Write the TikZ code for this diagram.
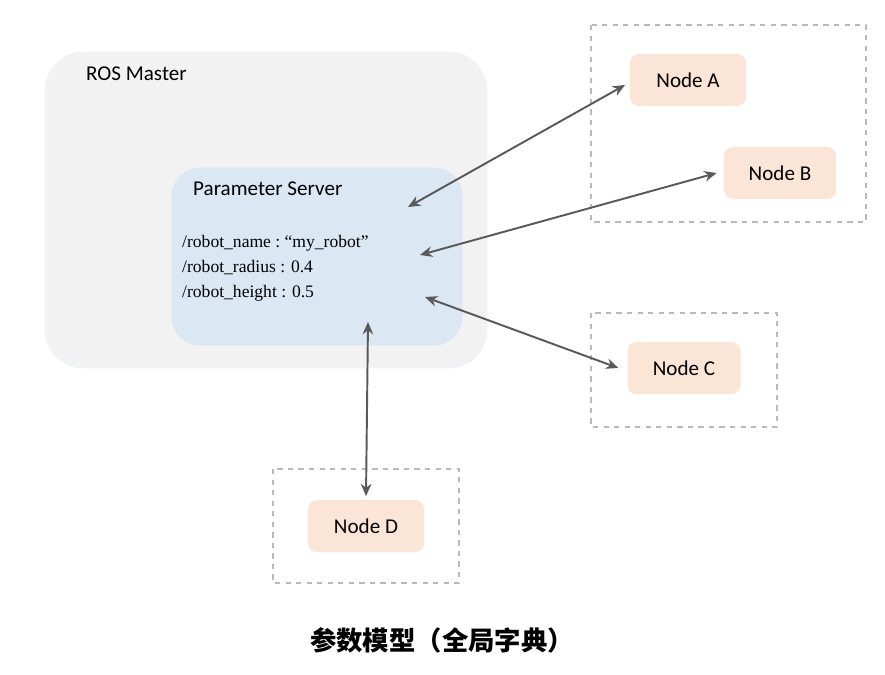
\documentclass[tikz,border=0pt]{standalone}
\usepackage{fontspec}
\setmainfont{Carlito}
\newfontfamily\serifx{Liberation Serif}
\newfontfamily\cjk{Noto Sans CJK SC}
\usetikzlibrary{arrows.meta}
\definecolor{mastergray}{HTML}{F2F2F2}
\definecolor{psblue}{HTML}{DCE7F4}
\definecolor{nodepeach}{HTML}{FBE5D6}
\begin{document}
\begin{tikzpicture}[x=0.02cm,y=-0.02cm,
  nd/.style={fill=nodepeach,rounded corners=5pt,minimum width=116*0.02cm,minimum height=52*0.02cm,font=\fontsize{12}{14}\selectfont},
  grp/.style={draw=gray!55,dashed,line width=0.6pt},
  con/.style={{Stealth[length=7pt,width=6pt]}-{Stealth[length=7pt,width=6pt]},line width=1.1pt,draw=black!65}]
\useasboundingbox (0,0) rectangle (885,675);
\draw[fill=mastergray,rounded corners=22pt,draw=psblue!50] (45,52) rectangle (487,368);
\node[anchor=west,font=\fontsize{12}{14}\selectfont] (rm) at (80,74) {ROS Master};
\draw[fill=psblue,draw=psblue,rounded corners=16pt] (172,168) rectangle (462,345);
\node[anchor=west,font=\fontsize{12}{14}\selectfont] (ps) at (187,189) {Parameter Server};
\node[anchor=west,font=\serifx\fontsize{10}{12}\selectfont] (l1) at (176,243) {/robot\_name :\ “my\_robot”};
\node[anchor=west,font=\serifx\fontsize{10}{12}\selectfont] (l2) at (176,268) {/robot\_radius : 0.4};
\node[anchor=west,font=\serifx\fontsize{10}{12}\selectfont] (l3) at (176,293) {/robot\_height : 0.5};
\draw[grp] (591,25) rectangle (866,222);
\draw[grp] (591,313) rectangle (777,427);
\draw[grp] (273,469) rectangle (459,583);
\node[nd] (A) at (688,80) {Node A};
\node[nd,minimum width=112*0.02cm] (B) at (780,173) {Node B};
\node[nd,minimum width=113*0.02cm] (C) at (684,368) {Node C};
\node[nd] (D) at (366,526) {Node D};
\coordinate (pa) at (408,207);
\coordinate (pb) at (420,255);
\coordinate (pc) at (425,297);
\coordinate (pd) at (368,322);
\coordinate (qa) at (625,85);
\draw[con] (pa) -- (qa);
\draw[con] (pb) -- ([xshift=-4pt]B.west);
\draw[con] (pc) -- ([xshift=-5pt]C.west);
\draw[con] (pd) -- ([yshift=2pt]D.north);
\node[font=\cjk\bfseries\fontsize{15}{17}\selectfont] (cap) at (442,640) {参数模型（全局字典）};
\end{tikzpicture}
\end{document}
